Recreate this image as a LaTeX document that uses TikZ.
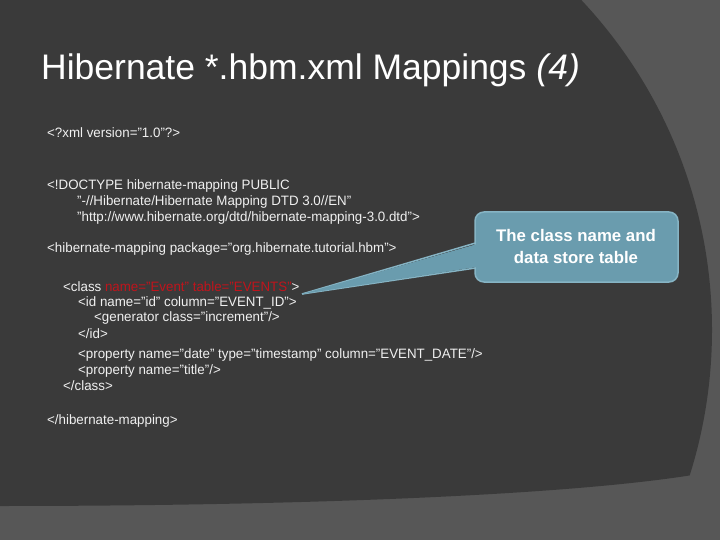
\documentclass[tikz,border=0pt]{standalone}
\usepackage{fontspec}
\setmainfont{Liberation Sans}
\definecolor{bgdark}{HTML}{3A3A3A}
\definecolor{bglight}{HTML}{575757}
\definecolor{callfill}{HTML}{6A9CAE}
\definecolor{calledge}{HTML}{86B4C4}
\definecolor{redt}{HTML}{C0141C}
\definecolor{codet}{HTML}{F0F0F0}
\begin{document}
\begin{tikzpicture}[x=1pt,y=-1pt,
  code/.style={anchor=west,inner sep=0pt,text=codet,font=\fontsize{13.6}{15}\selectfont\addfontfeature{FakeStretch=0.98}}]
\useasboundingbox (0,0) rectangle (720,540);
\fill[bglight] (0,0) rectangle (720,540);
\begin{scope}
\clip (0,0) -- (720,0) -- (720,470) .. controls (600,495) and (300,506) .. (0,506) -- cycle;
\fill[bgdark] (230,330) circle[radius=482pt];
\end{scope}
\node[anchor=base west,inner sep=0pt,text=white,font=\fontsize{35.5}{40}\selectfont] (title) at (41,80) {Hibernate *.hbm.xml Mappings \textit{(4)}};
\node[code] (l1) at (47,133) {<?xml version="1.0"?>};
\node[code] (l2) at (47,186) {<!DOCTYPE hibernate-mapping PUBLIC};
\node[code] (l3) at (77,202) {"-//Hibernate/Hibernate Mapping DTD 3.0//EN"};
\node[code] (l4) at (77,218) {"http://www.hibernate.org/dtd/hibernate-mapping-3.0.dtd">};
\node[code] (l5) at (47,249) {<hibernate-mapping package="org.hibernate.tutorial.hbm">};
\node[code] (l6) at (63,287) {<class \textcolor{redt}{name="Event" table="EVENTS"}>};
\node[code] (l7) at (78,303) {<id name="id" column="EVENT\_ID">};
\node[code] (l8) at (94,318) {<generator class="increment"/>};
\node[code] (l9) at (78,334) {</id>};
\node[code] (l10) at (78,355) {<property name="date" type="timestamp" column="EVENT\_DATE"/>};
\node[code] (l11) at (78,371) {<property name="title"/>};
\node[code] (l12) at (63,386) {</class>};
\node[code] (l13) at (47,421) {</hibernate-mapping>};
\coordinate (tip) at (302,294);
\draw[calledge,line width=1.5pt,fill=callfill,rounded corners=9pt] (475,212) rectangle (678,282);
\draw[calledge,line width=1.5pt] (tip) -- (475.5,243);
\draw[calledge,line width=1.5pt] (tip) -- (475.5,268);
\fill[callfill] (tip) -- (477,244) -- (477,267) -- cycle;
\node[align=center,text=white,font=\fontsize{16.8}{22}\selectfont\bfseries] (call) at (576,246) {The class name and\\data store table};
\end{tikzpicture}
\end{document}
